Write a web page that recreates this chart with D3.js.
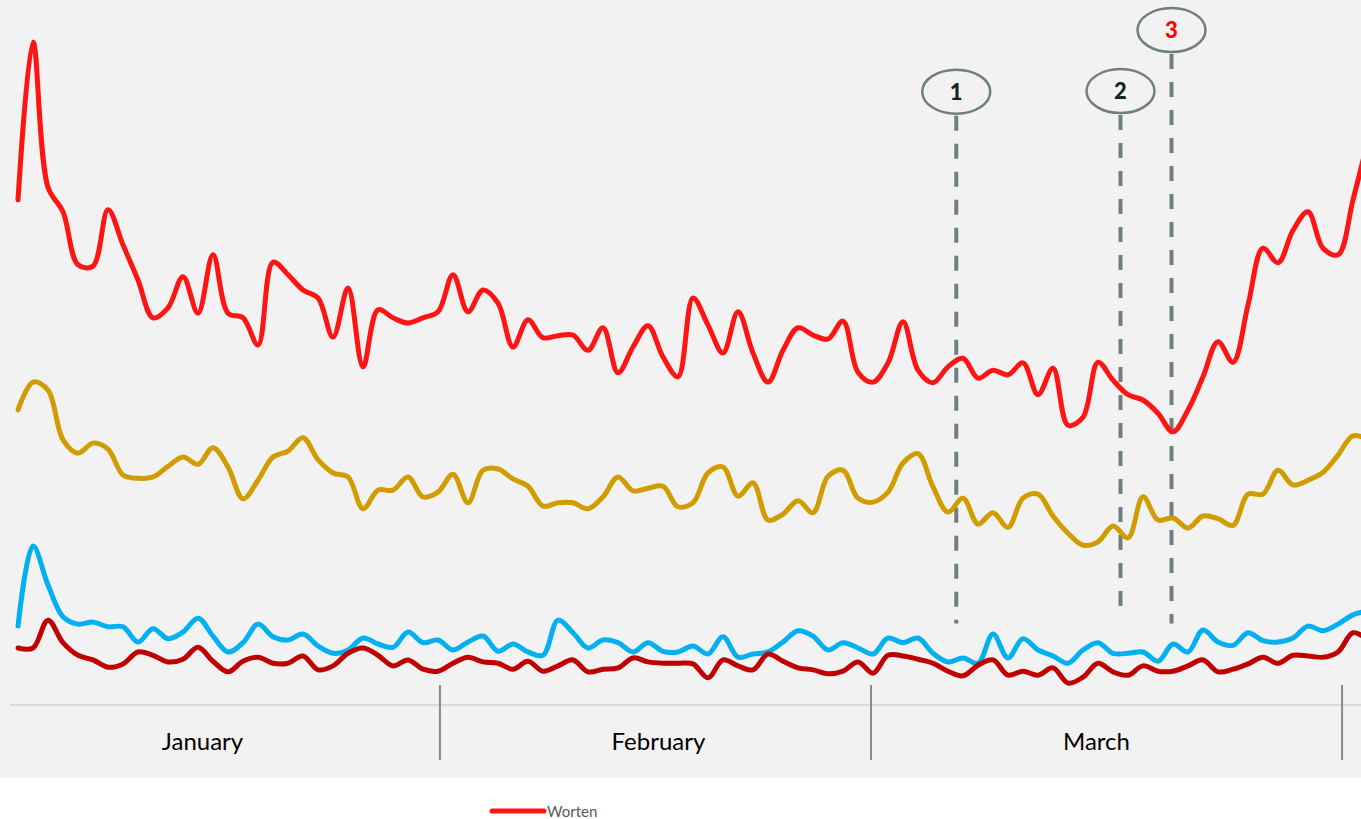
<!DOCTYPE html>
<html>
<head>
<meta charset="utf-8">
<script src="https://cdn.jsdelivr.net/npm/d3@7"></script>
<style>
	html, body { margin: 0; padding: 0; background: #fff; }
	svg { display: block; }
</style>
</head>
<body>
<script>
"use strict";

// search interest index (0-100), one point per step
const worten = [76.2, 100, 78.1, 74.4, 66.4, 66.2, 74.7, 69.4, 64.1, 58.4,
	59.9, 64.6, 59.1, 67.9, 59.1, 58.4, 54.3, 66.8, 64.9, 62.6,
	61.4, 55.5, 62.9, 51.0, 59.6, 58.4, 57.6, 58.4, 59.3, 64.9,
	59.3, 62.6, 60.6, 54.0, 58.1, 55.4, 55.7, 55.8, 53.5, 56.9,
	50.1, 54.0, 57.2, 52.5, 49.5, 61.4, 57.3, 53.1, 59.3, 53.1,
	48.7, 53.5, 56.9, 55.8, 55.2, 57.9, 50.2, 48.7, 51.6, 57.8,
	50.5, 48.6, 51.0, 52.3, 49.3, 50.5, 49.8, 51.6, 46.8, 50.8,
	42.2, 43.4, 51.7, 49.0, 46.8, 46.0, 44.0, 41.2, 44.5, 49.5,
	54.8, 51.7, 60.3, 68.9, 66.7, 71.6, 74.4, 68.9, 67.9, 76.2, 85.2];
const gold = [44.5, 48.7, 47.5, 40.0, 38.0, 39.5, 38.6, 34.7, 34.2, 34.4,
	36.0, 37.4, 36.3, 38.8, 35.9, 31.1, 33.9, 37.4, 38.3, 40.3,
	37.0, 35.0, 34.4, 29.6, 32.4, 32.4, 34.4, 31.4, 32.1, 34.8,
	30.5, 35.4, 35.6, 34.1, 33.0, 30.0, 30.5, 30.5, 29.6, 31.4,
	34.4, 32.3, 32.7, 33.0, 29.9, 30.5, 35.0, 35.9, 31.5, 33.5,
	27.9, 28.8, 30.8, 29.0, 34.5, 35.4, 31.2, 30.6, 32.1, 36.5,
	37.9, 32.9, 29.1, 31.2, 27.3, 29.0, 26.8, 31.2, 31.8, 28.5,
	25.9, 24.1, 24.6, 27.0, 25.2, 31.4, 27.9, 28.2, 26.7, 28.5,
	28.1, 27.1, 31.8, 31.8, 35.4, 33.2, 33.9, 35.1, 37.7, 40.6, 40.0];
const blue = [11.9, 24.0, 18.1, 13.3, 12.2, 12.5, 11.8, 11.8, 9.5, 11.5,
	10.0, 11.0, 13.1, 10.4, 8.0, 9.4, 12.2, 10.3, 9.8, 10.7,
	8.9, 7.8, 8.3, 10.1, 9.2, 8.7, 11.0, 9.4, 9.8, 8.3,
	9.5, 10.4, 8.1, 9.2, 8.0, 7.5, 12.8, 10.9, 8.6, 9.8,
	9.4, 8.0, 9.4, 8.1, 8.0, 8.9, 7.7, 10.3, 7.2, 7.7,
	8.0, 9.5, 11.2, 10.4, 8.3, 9.4, 8.6, 7.7, 10.1, 9.4,
	10.1, 7.8, 6.5, 7.1, 6.3, 10.7, 7.1, 10.0, 8.3, 7.4,
	6.3, 8.3, 9.4, 7.8, 7.8, 8.0, 6.6, 9.2, 8.0, 11.3,
	9.5, 9.0, 10.9, 9.7, 9.5, 10.1, 11.9, 11.2, 12.2, 13.6, 14.2];
const darkRed = [8.6, 8.6, 12.8, 9.4, 7.5, 6.8, 5.7, 6.2, 8.0, 7.5,
	6.5, 6.9, 8.7, 6.6, 5.0, 6.6, 7.2, 6.3, 6.3, 7.4,
	5.3, 5.9, 7.8, 8.6, 7.5, 5.9, 6.8, 5.4, 5.1, 6.3,
	7.2, 6.5, 6.3, 5.4, 6.6, 5.1, 5.9, 6.8, 5.0, 5.4,
	5.6, 7.1, 6.5, 6.3, 6.3, 6.2, 4.1, 6.8, 5.9, 5.3,
	7.7, 6.6, 5.6, 5.3, 4.7, 5.1, 6.5, 4.8, 7.5, 7.4,
	6.9, 6.3, 5.1, 4.4, 6.0, 6.8, 4.5, 5.1, 4.5, 5.6,
	3.3, 4.2, 6.3, 5.0, 4.5, 5.9, 5.1, 5.1, 5.9, 6.8,
	5.0, 5.4, 6.2, 7.2, 6.3, 7.5, 7.4, 7.2, 8.0, 10.9, 9.8];

const months = ["January", "February", "March"];
const monthLabelAt = [12.3, 42.7, 71.9];   // step index of label centre
const monthBreaks = [28.13, 56.87, 88.27];  // step index of separators

const markers = [
	{ label: "1", at: 62.55, top: 92.5, bottom: 12.3 },
	{ label: "2", at: 73.5, top: 92.6, bottom: 13.1 },
	{ label: "3", at: 76.9, top: 101.8, bottom: 12.3 }
];

const series = [
	{ name: "Worten", values: worten, color: "#ff1414" },
	{ name: "gold", values: gold, color: "#d09c00" },
	{ name: "blue", values: blue, color: "#00b0f0" },
	{ name: "darkRed", values: darkRed, color: "#c00000" }
];

const W = 1361, H = 819;
const plotBottom = 778;

const x = d3.scaleLinear()
			.domain([0, 90])
			.range([18, 1368]);
const y = d3.scaleLinear()
			.domain([0, 100])
			.range([705, 42]);

const line = d3.line()
			.x((d, i) => x(i))
			.y(d => y(d))
			.curve(d3.curveCatmullRom.alpha(0.5));

const svg = d3.select("body")
			.append("svg")
			.attr("width", W)
			.attr("height", H);

svg.append("rect")
	.attr("x", 0)
	.attr("y", 0)
	.attr("width", W)
	.attr("height", plotBottom)
	.attr("fill", "#f2f2f2");

// category axis line
svg.append("line")
	.attr("x1", x(-0.53))
	.attr("x2", W)
	.attr("y1", y(0))
	.attr("y2", y(0))
	.attr("stroke", "#d9d9d9")
	.attr("stroke-width", 2);

svg.selectAll(".month-sep")
	.data(monthBreaks)
	.join("line")
	.attr("class", "month-sep")
	.attr("x1", d => x(d))
	.attr("x2", d => x(d))
	.attr("y1", y(0) - 20)
	.attr("y2", y(0) + 55)
	.attr("stroke", "#7f8c8d")
	.attr("stroke-width", 2);

svg.selectAll(".month")
	.data(months)
	.join("text")
	.attr("class", "month")
	.attr("x", (d, i) => x(monthLabelAt[i]))
	.attr("y", y(0) + 45)
	.attr("text-anchor", "middle")
	.style("font-family", "Lato, 'Open Sans', sans-serif")
	.style("font-size", "24px")
	.attr("fill", "#000")
	.text(d => d);

// marker lines
const mk = svg.selectAll(".marker")
			.data(markers)
			.join("g")
			.attr("class", "marker");

mk.append("line")
	.attr("x1", d => x(d.at))
	.attr("x2", d => x(d.at))
	.attr("y1", d => y(d.top) + 24)
	.attr("y2", d => y(d.bottom))
	.attr("stroke", "#6f7f80")
	.attr("stroke-width", 4)
	.attr("stroke-dasharray", "15,13");

mk.append("ellipse")
	.attr("cx", d => x(d.at))
	.attr("cy", d => y(d.top))
	.attr("rx", 34)
	.attr("ry", 22)
	.attr("fill", "#f2f2f2")
	.attr("stroke", "#6f7f80")
	.attr("stroke-width", 2.5);

mk.append("text")
	.attr("x", d => x(d.at))
	.attr("y", d => y(d.top) + 8)
	.attr("text-anchor", "middle")
	.style("font-family", "Lato, 'Open Sans', sans-serif")
	.style("font-weight", "900")
	.style("font-size", "22px")
	.attr("fill", d => d.label === "3" ? "#ff0000" : "#142424")
	.text(d => d.label);

svg.selectAll(".series")
	.data(series)
	.join("path")
	.attr("class", "series")
	.attr("d", d => line(d.values))
	.attr("fill", "none")
	.attr("stroke", d => d.color)
	.attr("stroke-width", 5)
	.attr("stroke-linecap", "round")
	.attr("stroke-linejoin", "round");

// legend
const legend = svg.append("g")
			.attr("transform", "translate(490, 811)");
legend.append("line")
	.attr("x1", 2)
	.attr("x2", 54)
	.attr("stroke", series[0].color)
	.attr("stroke-width", 5)
	.attr("stroke-linecap", "round");
legend.append("text")
	.attr("x", 57)
	.attr("y", 6)
	.style("font-family", "Lato, 'Open Sans', sans-serif")
	.style("font-size", "15px")
	.attr("fill", "#595959")
	.text(series[0].name);
</script>
</body>
</html>
